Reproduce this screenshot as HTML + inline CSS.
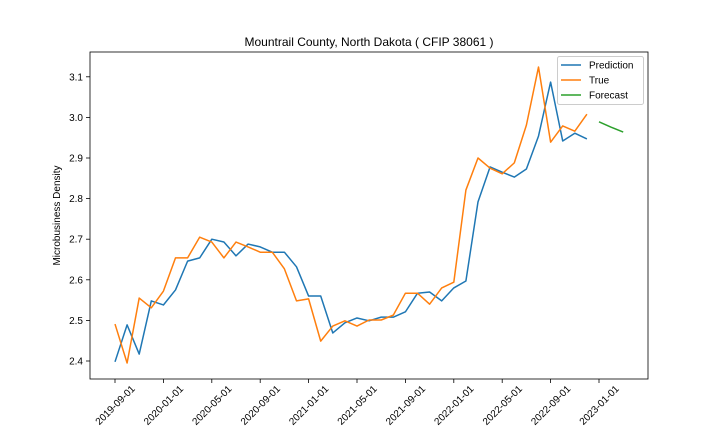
<!DOCTYPE html>
<html><head><meta charset="utf-8"><style>
body{margin:0;background:#fff}
svg text{font-family:"Liberation Sans","DejaVu Sans",sans-serif;fill:#000}
</style></head><body>
<svg id="chart" width="720" height="432"></svg>
<script>
const tickLabels=["2019-09-01","2020-01-01","2020-05-01","2020-09-01","2021-01-01","2021-05-01","2021-09-01","2022-01-01","2022-05-01","2022-09-01","2023-01-01"];
const tickMonths=[0,4,8,12,16,20,24,28,32,36,40];
const yTicks=[2.4,2.5,2.6,2.7,2.8,2.9,3.0,3.1];
const trueVals=[2.491,2.395,2.555,2.531,2.572,2.654,2.654,2.705,2.693,2.654,2.693,2.681,2.668,2.668,2.627,2.548,2.553,2.449,2.486,2.499,2.486,2.501,2.501,2.513,2.567,2.567,2.540,2.580,2.594,2.821,2.900,2.875,2.861,2.888,2.981,3.124,2.939,2.979,2.966,3.008];
const predVals=[2.398,2.489,2.417,2.548,2.538,2.575,2.646,2.654,2.700,2.693,2.659,2.688,2.681,2.668,2.668,2.632,2.560,2.560,2.469,2.494,2.506,2.499,2.508,2.508,2.521,2.567,2.570,2.548,2.580,2.597,2.792,2.878,2.865,2.853,2.873,2.954,3.087,2.942,2.961,2.947];
const forecastMonths=[40,41,42];
const forecastVals=[2.989,2.976,2.964];

const NS="http://www.w3.org/2000/svg";
const svg=document.getElementById('chart');
const L=90,R=648,T=52,B=379;
const x=m=>115+m*12.1;
const y=v=>361-(v-2.4)*406;
function el(t,a,p){const e=document.createElementNS(NS,t);for(const k in a)e.setAttribute(k,a[k]);(p||svg).appendChild(e);return e;}

const title=el('text',{x:(L+R)/2,y:46,'text-anchor':'middle','font-size':12});
title.textContent="Mountrail County, North Dakota ( CFIP 38061 )";



tickMonths.forEach((m,i)=>{
  const tx=x(m);
  const t=el('line',{x1:tx,x2:tx,y1:B,y2:B+4,stroke:'#000','stroke-width':0.8});
  
  
  const cy=405;
  const lb=el('text',{x:tx,y:cy+3.5,'text-anchor':'middle','font-size':10,transform:`rotate(-45 ${tx} ${cy})`});
  lb.textContent=tickLabels[i];
  
  
});
yTicks.forEach(v=>{
  const ty=y(v);
  const t=el('line',{x1:L-4,x2:L,y1:ty,y2:ty,stroke:'#000','stroke-width':0.8});
  
  
  const lb=el('text',{x:L-7,y:ty+3.5,'text-anchor':'end','font-size':10});
  lb.textContent=v.toFixed(1);
  
  
});
const yt=el('text',{x:60,y:(T+B)/2,'text-anchor':'middle','font-size':10,transform:`rotate(-90 60 ${(T+B)/2})`});
yt.textContent="Microbusiness Density";



function line(xs,vals,color,name){
  const p=el('polyline',{points:vals.map((v,i)=>x(xs[i])+','+y(v)).join(' '),fill:'none',stroke:color,'stroke-width':1.5,'stroke-linejoin':'round'});
  
  
}
const idx=predVals.map((_,i)=>i);
line(idx,predVals,'#1f77b4','prediction-line');
line(trueVals.map((_,i)=>i),trueVals,'#ff7f0e','true-line');
line(forecastMonths,forecastVals,'#2ca02c','forecast-line');

const frame=el('rect',{x:L,y:T,width:R-L,height:B-T,fill:'none',stroke:'#000','stroke-width':0.8});



const lg=el('g',{});


el('rect',{x:557.5,y:56.5,width:86,height:48,rx:2,fill:'#fff',stroke:'#ccc'},lg);
[['Prediction','#1f77b4'],['True','#ff7f0e'],['Forecast','#2ca02c']].forEach((d,i)=>{
  const g=el('g',{},lg);
  
  
  const ly=65+i*15;
  el('line',{x1:561,x2:581,y1:ly,y2:ly,stroke:d[1],'stroke-width':1.5},g);
  const t=el('text',{x:589,y:ly+3.5,'font-size':10},g);
  t.textContent=d[0];
});
</script>
</body></html>
